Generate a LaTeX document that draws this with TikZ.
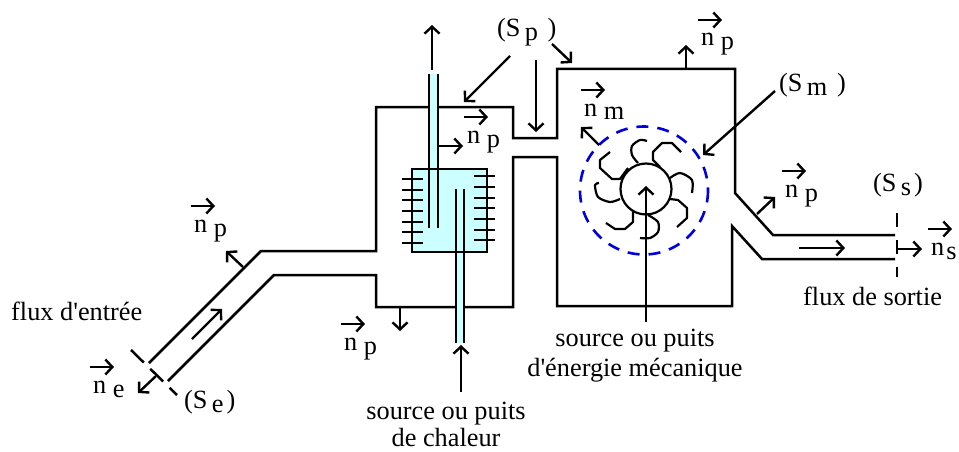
\documentclass[tikz,border=0pt]{standalone}
\usepackage{fontspec}
\setmainfont{Liberation Serif}
\usetikzlibrary{arrows.meta}
\definecolor{paleblue}{HTML}{CCFFFF}
\definecolor{rimblue}{HTML}{0000DD}
\newcommand{\lowidx}[1]{\raisebox{-4pt}{#1}}
\newcommand{\normalvec}[4]{%
  \node[txt,anchor=base west] (#1) at (#2,#3) {n#4};
  \draw[fleche] ([shift={(-3,-26)}]#1.base west) -- ++(24,0);}
\tikzset{
  txt/.style={inner sep=0pt,font=\fontsize{26.3}{30}\selectfont},
  wall/.style={line width=2.5pt,line join=miter},
  fleche/.style={line width=2.4pt,-{Straight Barb[length=7pt,width=15pt,line width=2.4pt]}},
  vane/.style={line width=2.2pt,line join=round}
}
\begin{document}
\begin{tikzpicture}[x=1pt,y=-1pt]
  \useasboundingbox (0,0) rectangle (959,452);
  % parois
  \draw[wall] (149,363) -- (261,251) -- (376,251) -- (376,107) -- (513,107) -- (513,138) -- (557,138)
    -- (557,69) -- (735,69) -- (735,193) -- (773,235) -- (895,235);
  \draw[wall] (168,381) -- (274,275) -- (376,275) -- (376,307) -- (513,307) -- (513,157) -- (557,157)
    -- (557,306) -- (732,306) -- (732,226) -- (762,259) -- (895,259);
  % echangeur
  \fill[paleblue] (429,74) rectangle (438,170);
  \fill[paleblue] (456,251) rectangle (464,343);
  \draw[wall,fill=paleblue] (412,169) rectangle (487,252);
  \draw[wall] (429,74) -- (429,228);
  \draw[wall] (438,74) -- (438,228);
  \draw[wall] (456,189) -- (456,343);
  \draw[wall] (464,189) -- (464,343);
  \foreach \y in {179,190,200,211,222,232,243}
    \draw[wall] (402,\y) -- (423,\y);
  \foreach \y in {176,187,198,208,219,230,240}
    \draw[wall] (474,\y) -- (495,\y);
  \draw[fleche] (432,70) -- (432,25);
  \draw[fleche] (461,392) -- (461,345);
  % roue
  \draw[rimblue,line width=2.6pt,dash pattern=on 12pt off 9pt] (644,190.5) circle (64);
  \draw[vane] (646,189) circle (25.5);
  \draw[vane] plot[smooth] coordinates {(638,163) (632,155) (632,146) (640,140) (647,141)};
  \draw[vane] (660,167) -- (653,160) -- (653,152) -- (662,143) -- (672,143) -- (681,152);
  \draw[vane] plot[smooth] coordinates {(670,178) (680,173) (692,180) (692,193)};
  \draw[vane] (670,199) -- (678,200) -- (687,208) -- (687,218) -- (677,227);
  \draw[vane] plot[smooth] coordinates {(648,215) (658,222) (658,232) (650,238) (640,238)};
  \draw[vane] (633,212) -- (633,222) -- (625,229) -- (615,229) -- (606,223);
  \draw[vane] plot[smooth] coordinates {(620,199) (610,202) (598,197) (595,185) (599,183)};
  \draw[vane] (628,168) -- (620,179) -- (612,179) -- (600,168) -- (600,160) -- (610,152);
  \draw[fleche] (646,322) -- (646,186);
  % sections
  \draw[wall,dash pattern=on 18pt off 9pt] (131,350) -- (177,395);
  \draw[wall,dash pattern=on 14pt off 13pt] (897,213) -- (897,277);
  % fleches
  \draw[fleche] (243,267) -- (226,251);
  \draw[fleche] (192,339) -- (222,309);
  \draw[fleche] (156,376) -- (138,393);
  \draw[fleche] (400,307) -- (400,331);
  \draw[fleche] (438,146) -- (463,146);
  \draw[fleche] (510,56) -- (464,102);
  \draw[fleche] (536,60) -- (536,132);
  \draw[fleche] (552,44) -- (572,63);
  \draw[fleche] (686,69) -- (686,45);
  \draw[fleche] (599,145) -- (581,127);
  \draw[fleche] (775,91) -- (703,155);
  \draw[fleche] (757,214) -- (775,197);
  \draw[fleche] (799,248) -- (845,248);
  \draw[fleche] (897,249) -- (922,249);
  % textes
  \normalvec{npa}{194}{232}{ \lowidx{p}}
  \normalvec{npb}{467}{143}{ \lowidx{p}}
  \normalvec{npc}{701}{46}{ \lowidx{p}}
  \normalvec{npd}{344}{350}{ \lowidx{p}}
  \normalvec{npe}{785}{197}{ \lowidx{p}}
  \normalvec{nm}{584}{116}{ \lowidx{m}}
  \normalvec{ne}{93}{393}{ \lowidx{e}}
  \normalvec{ns}{931}{255}{\kern2pt\lowidx{s}}
  \node[txt,anchor=base west] (Sp) at (497,37) {(S\,\lowidx{p}\ \kern3pt)};
  \node[txt,anchor=base west] (Sm) at (779,92) {(S\,\lowidx{m}\ \kern3pt)};
  \node[txt,anchor=base west] (Ss) at (873,191) {(S\,\lowidx{s}\kern3pt)};
  \node[txt,anchor=base west] (Se) at (184,408) {(S\,\lowidx{e}\kern3pt)};
  \node[txt,anchor=base west] (fe) at (11,320) {flux d\textquotesingle entrée};
  \node[txt,anchor=base west] (fs) at (803,305) {flux de sortie};
  \node[txt,anchor=base] (sc) at (446,419) {source ou puits};
  \node[txt,anchor=base] (dc) at (446,446) {de chaleur};
  \node[txt,anchor=base] (sm) at (635,346) {source ou puits};
  \node[txt,anchor=base] (dm) at (635,376) {d\textquotesingle énergie mécanique};
\end{tikzpicture}
\end{document}
